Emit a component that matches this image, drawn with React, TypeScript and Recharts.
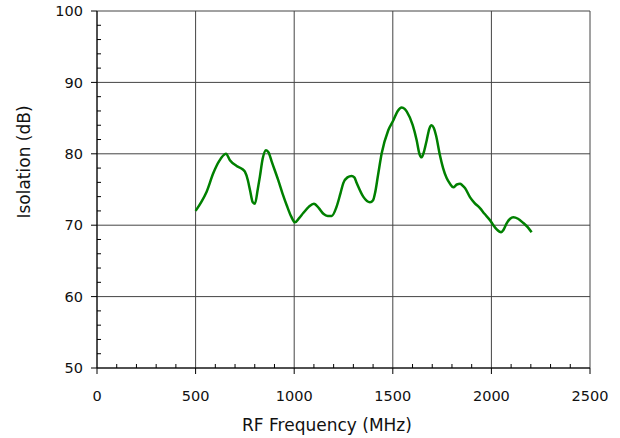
import React from "react";
import { LineChart, Line, XAxis, YAxis, CartesianGrid } from "recharts";

// RF frequency (MHz) and isolation (dB)
const freq = [
  500, 530, 556, 590, 620, 654, 674, 708, 740, 750, 765, 776, 790, 801, 815,
  826, 840, 857, 870, 886, 919, 940, 962, 985, 1004, 1025, 1046, 1075, 1100,
  1125, 1148, 1170, 1190, 1215, 1235, 1249, 1270, 1291, 1305, 1317, 1350, 1384,
  1400, 1410, 1425, 1444, 1477, 1503, 1525, 1545, 1560, 1571, 1601, 1621, 1635,
  1646, 1660, 1672, 1685, 1697, 1708, 1719, 1739, 1755, 1773, 1790, 1807, 1825,
  1841, 1852, 1866, 1892, 1915, 1942, 1965, 1993, 2010, 2027, 2049, 2060, 2078,
  2095, 2111, 2135, 2162, 2185, 2204,
];
const isolation = [
  72.0, 73.3, 74.7, 77.3, 79.0, 80.0, 79.1, 78.3, 77.8, 77.5, 76.3, 74.9, 73.2,
  73.0, 75.0, 76.8, 79.3, 80.5, 80.2, 78.9, 76.3, 74.5, 72.8, 71.2, 70.4, 71.0,
  71.7, 72.6, 73.0, 72.4, 71.6, 71.3, 71.3, 72.6, 74.5, 75.9, 76.7, 76.9, 76.7,
  75.9, 74.0, 73.2, 73.5, 74.5, 77.0, 80.1, 83.3, 84.7, 86.0, 86.5, 86.3, 85.9,
  84.0, 81.9, 80.0, 79.5, 80.5, 81.9, 83.5, 84.0, 83.6, 82.6, 79.8, 78.0, 76.6,
  75.8, 75.3, 75.7, 75.8, 75.6, 75.2, 73.9, 73.1, 72.4, 71.6, 70.7, 70.0, 69.4,
  69.0, 69.3, 70.3, 70.9, 71.1, 70.9, 70.3, 69.7, 69.0,
];

// major ticks get labels + gridlines, minor ticks are small inward marks
const xTicks = [0, 500, 1000, 1500, 2000, 2500];
const yTicks = [50, 60, 70, 80, 90, 100];
const xAllTicks = Array.from({ length: 26 }, (_, i) => i * 100);
const yAllTicks = Array.from({ length: 26 }, (_, i) => 50 + i * 2);

const data = freq.map((f, i) => ({ f, db: isolation[i] }));

const font = "'DejaVu Sans', sans-serif";

function XTick({ x, y, payload }: any) {
  const major = xTicks.includes(payload.value);
  return (
    <g>
      {major ? (
        <>
          <line x1={x} x2={x} y1={y} y2={y + 6} stroke="#000" />
          <text x={x} y={y + 28} dy="0.36em" textAnchor="middle" fontSize={14.5}
            fontFamily={font} fill="#111">
            {payload.value}
          </text>
        </>
      ) : (
        <line x1={x} x2={x} y1={y} y2={y - 4} stroke="#000" />
      )}
    </g>
  );
}

function YTick({ x, y, payload }: any) {
  const major = yTicks.includes(payload.value);
  return (
    <g>
      {major ? (
        <>
          <line x1={x - 6} x2={x} y1={y} y2={y} stroke="#000" />
          <text x={x - 14} y={y} dy="0.36em" textAnchor="end" fontSize={14.5}
            fontFamily={font} fill="#111">
            {payload.value}
          </text>
        </>
      ) : (
        <line x1={x} x2={x + 4} y1={y} y2={y} stroke="#000" />
      )}
    </g>
  );
}

export default function App() {
  return (
    <div style={{ width: 620, height: 438 }}>
      <style>{"body{margin:0}"}</style>
      <LineChart
        width={620}
        height={438}
        data={data}
        margin={{ top: 11, right: 30, left: 0, bottom: 0 }}
        style={{ fontFamily: font }}
      >
        <CartesianGrid stroke="#444" strokeWidth={1} verticalValues={xTicks} horizontalValues={yTicks} />
        <XAxis
          dataKey="f"
          type="number"
          domain={[0, 2500]}
          ticks={xAllTicks}
          interval={0}
          height={70}
          tickSize={0}
          tickMargin={0}
          tickLine={false}
          stroke="#000"
          tick={<XTick />}
          label={{
            content: () => (
              <text x={327} y={425} textAnchor="middle" dominantBaseline="central"
                fontSize={17} fontFamily={font} fill="#111">
                RF Frequency (MHz)
              </text>
            ),
          }}
        />
        <YAxis
          type="number"
          domain={[50, 100]}
          ticks={yAllTicks}
          interval={0}
          width={97}
          tickSize={0}
          tickMargin={0}
          tickLine={false}
          stroke="#000"
          tick={<YTick />}
          label={{
            content: () => (
              <text x={24} y={162} transform="rotate(-90 24 162)" textAnchor="middle"
                dominantBaseline="central" fontSize={17} fontFamily={font} fill="#111">
                Isolation (dB)
              </text>
            ),
          }}
        />
        <Line
          type="monotone"
          dataKey="db"
          stroke="#008000"
          strokeWidth={2.5}
          dot={false}
          isAnimationActive={false}
        />
      </LineChart>
    </div>
  );
}
